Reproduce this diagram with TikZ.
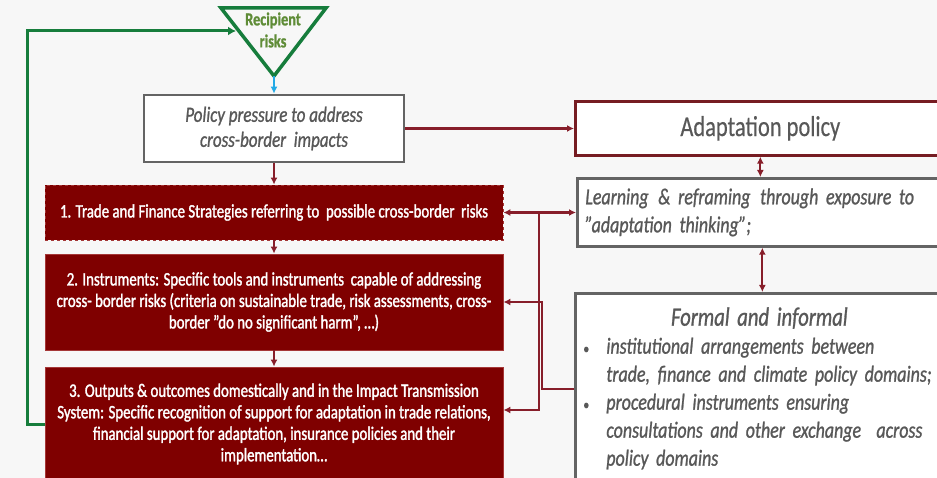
\documentclass[tikz,border=0pt]{standalone}
\usepackage{fontspec}
\setmainfont[FakeStretch=0.78, FakeBold=1]{Carlito}
\newfontfamily\stepfont[FakeStretch=0.78, FakeBold=1.6]{Carlito}
\newfontfamily\plainfont[FakeStretch=0.78, FakeBold=0.4]{Carlito}
\usepackage{xcolor}
\usepackage{tikz}
\usetikzlibrary{positioning,arrows.meta,calc}
\definecolor{slidebg}{RGB}{247,247,247}
\definecolor{stepred}{RGB}{127,0,0}
\definecolor{steprim}{RGB}{165,55,55}
\definecolor{linkred}{RGB}{135,30,42}
\definecolor{adaptred}{RGB}{118,28,34}
\definecolor{framegray}{RGB}{100,100,100}
\definecolor{textgray}{RGB}{88,88,88}
\definecolor{riskgreen}{RGB}{22,125,60}
\definecolor{riskfont}{RGB}{95,140,55}
\definecolor{pushblue}{RGB}{35,170,230}

\begin{document}
\begin{tikzpicture}[x=1pt, y=-1pt,
    stepbox/.style={fill=stepred, draw=steprim, line width=0.8pt, text=white,
        align=center, minimum width=458, inner sep=0pt,
        font=\stepfont\fontsize{19}{21.5}\selectfont},
    graybox/.style={fill=white, draw=framegray, line width=2.7pt, text=textgray,
        inner sep=0pt, minimum width=370},
    link/.style={draw=linkred, line width=2.2pt, -{Latex[length=7pt,width=7pt]}},
    twoway/.style={link, {Latex[length=7pt,width=7pt]}-{Latex[length=7pt,width=7pt]}},
    feedback/.style={draw=riskgreen, line width=3pt, -{Latex[length=8pt,width=9pt]}}]

    % Slide background
    \fill[slidebg] (0,0) rectangle (937,478);
    \useasboundingbox (0,0) rectangle (937,478);
    \clip (0,0) rectangle (937,478);

    % Recipient risks triangle
    \coordinate (tri-a) at (221,8);
    \coordinate (tri-b) at (326,8);
    \coordinate (tri-tip) at (274,76);
    \coordinate (tri-in) at (236,31);
    \draw[riskgreen, line width=3.5pt, line join=miter] (tri-a) -- (tri-b) -- (tri-tip) -- cycle;
    \node[text=riskfont, align=center, inner sep=0pt,
        font=\bfseries\fontsize{18.4}{22}\selectfont] (risk) at (273,30) {Recipient\\risks};

    % Left column
    \node[graybox, minimum width=260, minimum height=67,
        font=\itshape\fontsize{21.8}{25}\selectfont, align=center] (policy) at (274,128.5)
        {Policy pressure to address\\cross-border~ impacts};
    \node[stepbox, dashed, minimum height=55] (step1) at (274,212.5)
        {1. Trade and Finance Strategies referring to~ possible cross-border~ risks};
    \node[stepbox, minimum height=96] (step2) at (274,302)
        {2. Instruments: Specific tools and instruments~ capable of addressing\\
         cross- border risks (criteria on sustainable trade, risk assessments, cross-\\
         border ”do no significant harm”, …)};
    \node[stepbox, minimum height=114] (step3) at (274,424)
        {3. Outputs \& outcomes domestically and in the Impact Transmission\\
         System: Specific recognition of support for adaptation in trade relations,\\
         financial support for adaptation, insurance policies and their\\
         implementation…};

    % Right column
    \node[graybox, draw=adaptred, anchor=north west, minimum height=54,
        font=\plainfont\fontsize{28.8}{30}\selectfont] (adapt) at (574,100) {Adaptation policy};
    \node[graybox, anchor=north west, minimum height=68, text width=354, align=left,
        font=\itshape\fontsize{23}{28}\selectfont] (learn) at (576,177)
        {Learning\hspace{2pt} \& reframing\hspace{2pt} through exposure to\\”adaptation thinking”;};
    \node[graybox, anchor=north west, minimum height=190, text width=354, align=left,
        font=\itshape\fontsize{23}{28}\selectfont] (formal) at (574,292)
        {\makebox[352pt]{\fontsize{26.5}{28}\selectfont Formal and informal}\\
         \makebox[23pt][l]{\upshape\fontsize{15}{28}\selectfont•}institutional arrangements between\\
         \hspace*{23pt}trade, finance and climate policy domains;\\
         \makebox[23pt][l]{\upshape\fontsize{15}{28}\selectfont•}procedural instruments ensuring\\
         \hspace*{23pt}consultations and other exchange~ across\\
         \hspace*{23pt}policy domains};

    % Flow down the left column
    \draw[pushblue, line width=1.5pt, -{Latex[length=7pt,width=7pt]}]
        (tri-tip) -- (tri-tip |- policy.north);
    \draw[link] (policy.south) -- (step1.north);
    \draw[link] (step1.south) -- (step2.north);
    \draw[link] (step2.south) -- (step3.north);

    % Links to the adaptation side
    \draw[link] (policy.east) -- (policy.east -| adapt.west);
    \draw[twoway] (adapt.south) -- (adapt.south |- learn.north);
    \draw[twoway] (learn.south) -- (learn.south |- formal.north);
    \draw[twoway] (step1.east) -- (step1.east -| learn.west);

    % Bus back into the steps
    \coordinate (bus-top) at (539,212.5);
    \coordinate (bus-low) at (539,410);
    \coordinate (bus-in) at (542,389);
    \coordinate (bus-mid) at (542,302);
    \draw[link] (bus-top) -- (bus-low) -- (bus-low -| step3.east);
    \draw[link] (formal.west |- bus-in) -- (bus-in) -- (bus-mid) -- (step2.east);

    % Feedback loop to recipient risks
    \coordinate (loop-top) at (27,31);
    \draw[feedback] (step3.west) -| (loop-top) -- (tri-in);
\end{tikzpicture}
\end{document}
